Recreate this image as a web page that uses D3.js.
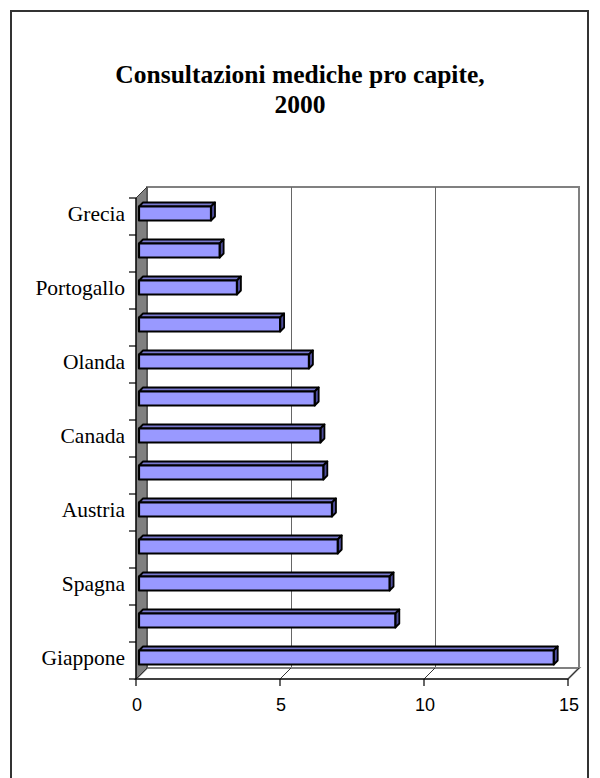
<!DOCTYPE html>
<html><head><meta charset="utf-8">
<script src="https://cdn.jsdelivr.net/npm/d3@7"></script>
<style>body{margin:0;background:#fff}svg{display:block}</style>
</head><body>
<svg id="c" width="600" height="778"></svg>
<script>
const categories = ["Grecia","Svezia","Portogallo","Regno Unito","Olanda","Danimarca","Canada","Australia","Austria","Francia","Spagna","Belgio","Giappone"];
const values = [2.5, 2.8, 3.4, 4.9, 5.9, 6.1, 6.3, 6.4, 6.7, 6.9, 8.7, 8.9, 14.4];
const xTicks = [0, 5, 10, 15];
const titleLines = ["Consultazioni mediche pro capite,", "2000"];

const svg = d3.select("#c");
const D = 11; // depth offset
const x = d3.scaleLinear().domain([0, 15]).range([136, 568]);
const y = d3.scaleBand().domain(categories).range([198, 679]);

// frame
svg.append("rect").attr("x", 11).attr("y", 11).attr("width", 577).attr("height", 800)
  .attr("fill", "#fff").attr("stroke", "#333").attr("stroke-width", 2);

// title
svg.append("text").attr("x", 300).attr("y", 83).attr("text-anchor", "middle")
  .attr("font-family", "Liberation Serif, Times New Roman, serif").attr("font-weight", "bold")
  .attr("font-size", 25.5).selectAll("tspan").data(titleLines).join("tspan")
  .attr("x", 300).attr("dy", (d, i) => i ? 30 : 0).text(d => d);

const [y0, y1] = y.range();
// back wall
svg.append("rect").attr("x", x(0) + D).attr("y", y0 - D).attr("width", x(15) - x(0)).attr("height", y1 - y0)
  .attr("fill", "#fff").attr("stroke", "#808080").attr("stroke-width", 2);
// gridlines on back wall
svg.selectAll(".grid").data(xTicks.filter(t => t > 0 && t < 15)).join("line")
  .attr("x1", d => x(d) + D + 0.5).attr("x2", d => x(d) + D + 0.5).attr("y1", y0 - D).attr("y2", y1 - D)
  .attr("stroke", "#666").attr("stroke-width", 1);
// floor
svg.append("path").attr("d", `M${x(0)},${y1}L${x(0)+D},${y1-D}L${x(15)+D},${y1-D}L${x(15)},${y1}Z`)
  .attr("fill", "#fff").attr("stroke", "#808080").attr("stroke-width", 2);
svg.selectAll(".fgrid").data(xTicks.filter(t => t > 0)).join("line")
  .attr("x1", d => x(d)).attr("y1", y1).attr("x2", d => x(d) + D).attr("y2", y1 - D)
  .attr("stroke", "#333").attr("stroke-width", 1);
// left wall
svg.append("path").attr("d", `M${x(0)},${y0}L${x(0)+D},${y0-D}L${x(0)+D},${y1-D}L${x(0)},${y1}Z`)
  .attr("fill", "#808080").attr("stroke", "#333").attr("stroke-width", 1);

// bars
const o1 = 3, o2 = 7, hh = 7;
const g = svg.append("g");
categories.forEach((c, i) => {
  const cy = y(c) + y.bandwidth() / 2;
  const xa = x(0), xb = x(values[i]);
  const top = cy - hh, bot = cy + hh;
  const bg = g.append("g").attr("stroke", "#000").attr("stroke-width", 1.8).attr("stroke-linejoin", "round");
  bg.append("path").attr("d", `M${xa+o1},${top-o1}L${xb+o1},${top-o1}L${xb+o2},${top-o2}L${xa+o2},${top-o2}Z`).attr("fill", "#7777cc");
  bg.append("path").attr("d", `M${xb+o1},${top-o1}L${xb+o2},${top-o2}L${xb+o2},${bot-o2}L${xb+o1},${bot-o1}Z`).attr("fill", "#4d4d99");
  bg.append("rect").attr("x", xa + o1).attr("y", top - o1).attr("width", xb - xa).attr("height", bot - top).attr("fill", "#9999ff").attr("stroke-width", 2.2);
});

// axes
const ax = svg.append("g").attr("stroke", "#000").attr("stroke-width", 1.2);
ax.append("line").attr("x1", x(0)).attr("x2", x(0)).attr("y1", y0).attr("y2", y1);
ax.append("line").attr("x1", x(0)).attr("x2", x(15)).attr("y1", y1).attr("y2", y1);
const bounds = d3.range(categories.length + 1).map(i => y0 + i * y.step());
ax.selectAll(".yt").data(bounds).join("line").attr("x1", x(0) - 7).attr("x2", x(0)).attr("y1", d => d).attr("y2", d => d);
ax.selectAll(".xt").data(xTicks).join("line").attr("x1", d => x(d)).attr("x2", d => x(d)).attr("y1", y1).attr("y2", y1 + 7);

svg.selectAll(".xl").data(xTicks).join("text").attr("x", d => x(d) + 1).attr("y", 711)
  .attr("text-anchor", "middle").attr("font-family", "Liberation Sans, Arial, sans-serif").attr("font-size", 18)
  .text(d => d);
svg.selectAll(".yl").data(categories.filter((c, i) => i % 2 === 0)).join("text")
  .attr("x", 125).attr("y", d => y(d) + y.bandwidth() / 2 - 3).attr("dy", "0.35em")
  .attr("text-anchor", "end").attr("font-family", "Liberation Serif, Times New Roman, serif").attr("font-size", 21.5)
  .text(d => d);
</script>
</body></html>
